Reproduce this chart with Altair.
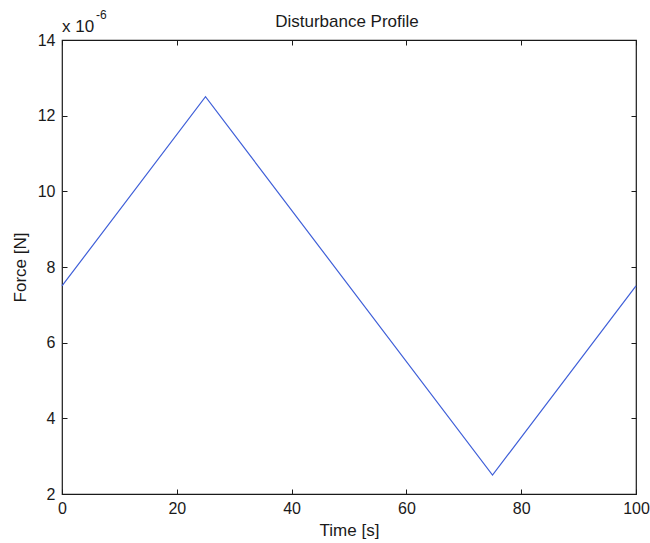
import altair as alt
import pandas as pd

# Disturbance force over one period (force in units of 1e-6 N)
time_s = [0, 25, 75, 100]
force_u = [7.5, 12.5, 2.5, 7.5]
x_ticks = [0, 20, 40, 60, 80, 100]
y_ticks = [2, 4, 6, 8, 10, 12, 14]

W, H = 574, 454
FONT = "Liberation Sans"
INK = "#1a1a1a"

df = pd.DataFrame({"t": time_s, "f": force_u})
xs = alt.Scale(domain=[0, 100], nice=False, zero=False)
ys = alt.Scale(domain=[2, 14], nice=False, zero=False)

base = alt.Chart(df)

line = base.mark_line(color="#3f5fd8", strokeWidth=1.2).encode(
    x=alt.X("t:Q", scale=xs, axis=alt.Axis(
        orient="bottom", values=x_ticks, title="Time [s]", tickSize=0,
        domain=False, grid=False, labelPadding=6, titlePadding=6,
        labelFlush=False, labelOverlap=False,
        labelFont=FONT, labelFontSize=16, labelColor=INK,
        titleFont=FONT, titleFontSize=17, titleFontWeight="normal", titleColor=INK)),
    y=alt.Y("f:Q", scale=ys, axis=alt.Axis(
        orient="left", values=y_ticks, title="Force [N]", tickSize=0,
        domain=False, grid=False, labelPadding=7, titlePadding=8,
        labelFlush=False, labelOverlap=False,
        labelFont=FONT, labelFontSize=16, labelColor=INK,
        titleFont=FONT, titleFontSize=17, titleFontWeight="normal", titleColor=INK)),
)

# Inward-pointing ticks along the bottom and left edges
ticks_in_a = base.mark_line(opacity=0).encode(
    x=alt.X("t:Q", scale=xs, axis=alt.Axis(
        orient="top", offset=-H, values=x_ticks, labels=False, title="",
        domain=False, grid=False, tickSize=5, tickColor=INK, tickWidth=1)),
    y=alt.Y("f:Q", scale=ys, axis=alt.Axis(
        orient="right", offset=-W, values=y_ticks, labels=False, title="",
        domain=False, grid=False, tickSize=5, tickColor=INK, tickWidth=1)),
)

# Inward-pointing ticks along the top and right edges
ticks_in_b = base.mark_line(opacity=0).encode(
    x=alt.X("t:Q", scale=xs, axis=alt.Axis(
        orient="bottom", offset=-H, values=x_ticks, labels=False, title="",
        domain=False, grid=False, tickSize=5, tickColor=INK, tickWidth=1)),
    y=alt.Y("f:Q", scale=ys, axis=alt.Axis(
        orient="left", offset=-W, values=y_ticks, labels=False, title="",
        domain=False, grid=False, tickSize=5, tickColor=INK, tickWidth=1)),
)

# Chart title and exponent annotation above the plot frame
title = alt.Chart(pd.DataFrame({"s": ["Disturbance Profile"]})).mark_text(
    align="center", baseline="alphabetic", font=FONT, fontSize=17, color=INK, clip=False
).encode(text="s:N", x=alt.value(W / 2 - 2), y=alt.value(-13))
exp_base = alt.Chart(pd.DataFrame({"s": ["x 10"]})).mark_text(
    align="left", baseline="alphabetic", font=FONT, fontSize=17, color=INK, clip=False
).encode(text="s:N", x=alt.value(0), y=alt.value(-8))
exp_sup = alt.Chart(pd.DataFrame({"s": ["-6"]})).mark_text(
    align="left", baseline="alphabetic", font=FONT, fontSize=12, color=INK, clip=False
).encode(text="s:N", x=alt.value(34), y=alt.value(-21))

chart = alt.layer(line, ticks_in_a, ticks_in_b, title, exp_base, exp_sup).resolve_axis(
    x="independent", y="independent"
).properties(
    width=W, height=H,
    autosize=alt.AutoSizeParams(type="none"),
    padding={"left": 62, "top": 40, "right": 14, "bottom": 49},
    background="white",
).configure_view(stroke=INK, strokeWidth=1.2)

chart.save("out.html", embed_options={"renderer": "svg", "actions": False})
